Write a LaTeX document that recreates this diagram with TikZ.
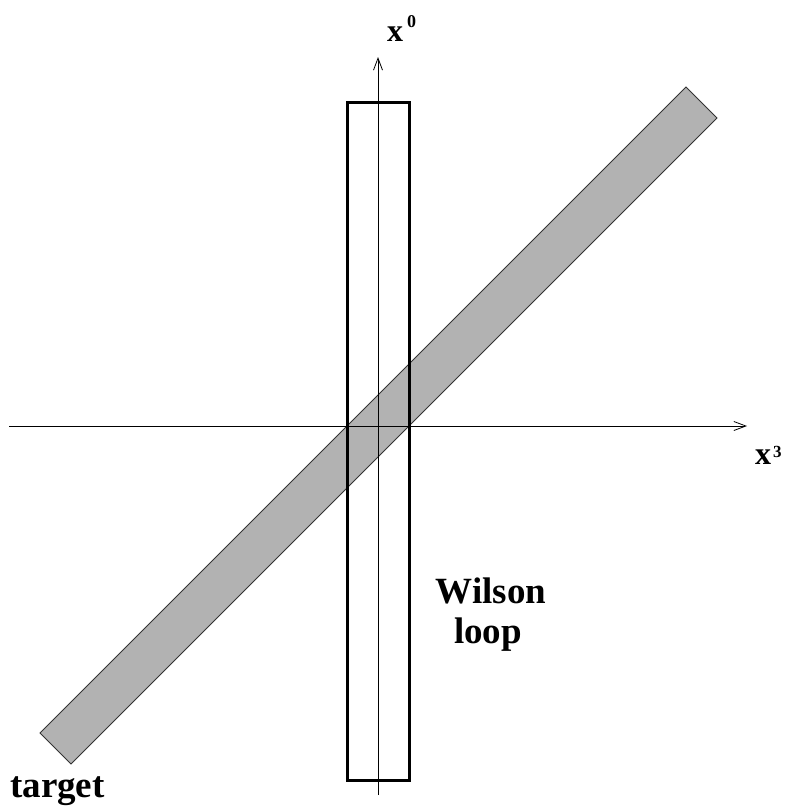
\documentclass[tikz,border=0pt]{standalone}
\usepackage{fontspec}
\setmainfont{Liberation Serif}
\usetikzlibrary{positioning,arrows.meta}

\tikzset{
  axis/.style={line width=0.8pt,-{Straight Barb[length=12pt,width=9pt,line width=0.8pt]}},
  loopbox/.style={line width=3pt},
  band/.style={fill=black!30,draw=black!80,line width=0.8pt},
  lbl/.style={font=\bfseries\fontsize{37}{40}\selectfont,inner sep=0pt}
}

\begin{document}
\begin{tikzpicture}[x=1pt,y=-1pt]
\useasboundingbox (0,0) rectangle (792,807);

% target band
\draw[band] (40,733) -- (71,764) -- (717,118) -- (686,87) -- cycle;

% axes
\coordinate (west) at (9,426);
\coordinate (east) at (747,426);
\coordinate (south) at (378,795);
\coordinate (north) at (378,57);
\draw[axis] (west) -- (east);
\draw[axis] (south) -- (north);

% Wilson loop
\draw[loopbox] (347,102) rectangle (409,780);

% labels
\node[inner sep=0pt,anchor=base west] (xnull) at (387,41)
  {\bfseries\fontsize{32}{34}\selectfont x\hspace{4pt}\raisebox{14pt}{\fontsize{18}{20}\selectfont 0}};
\node[inner sep=0pt,anchor=base west] (xdrei) at (755,464)
  {\bfseries\fontsize{32}{34}\selectfont x\hspace{2pt}\raisebox{7pt}{\fontsize{17}{19}\selectfont 3}};
\node[lbl,anchor=base] (wilson) at (491,603) {Wilson};
\node[lbl,anchor=base] (loop) at (488,643) {loop};
\node[lbl,anchor=base west] (target) at (10,797) {target};
\end{tikzpicture}
\end{document}
